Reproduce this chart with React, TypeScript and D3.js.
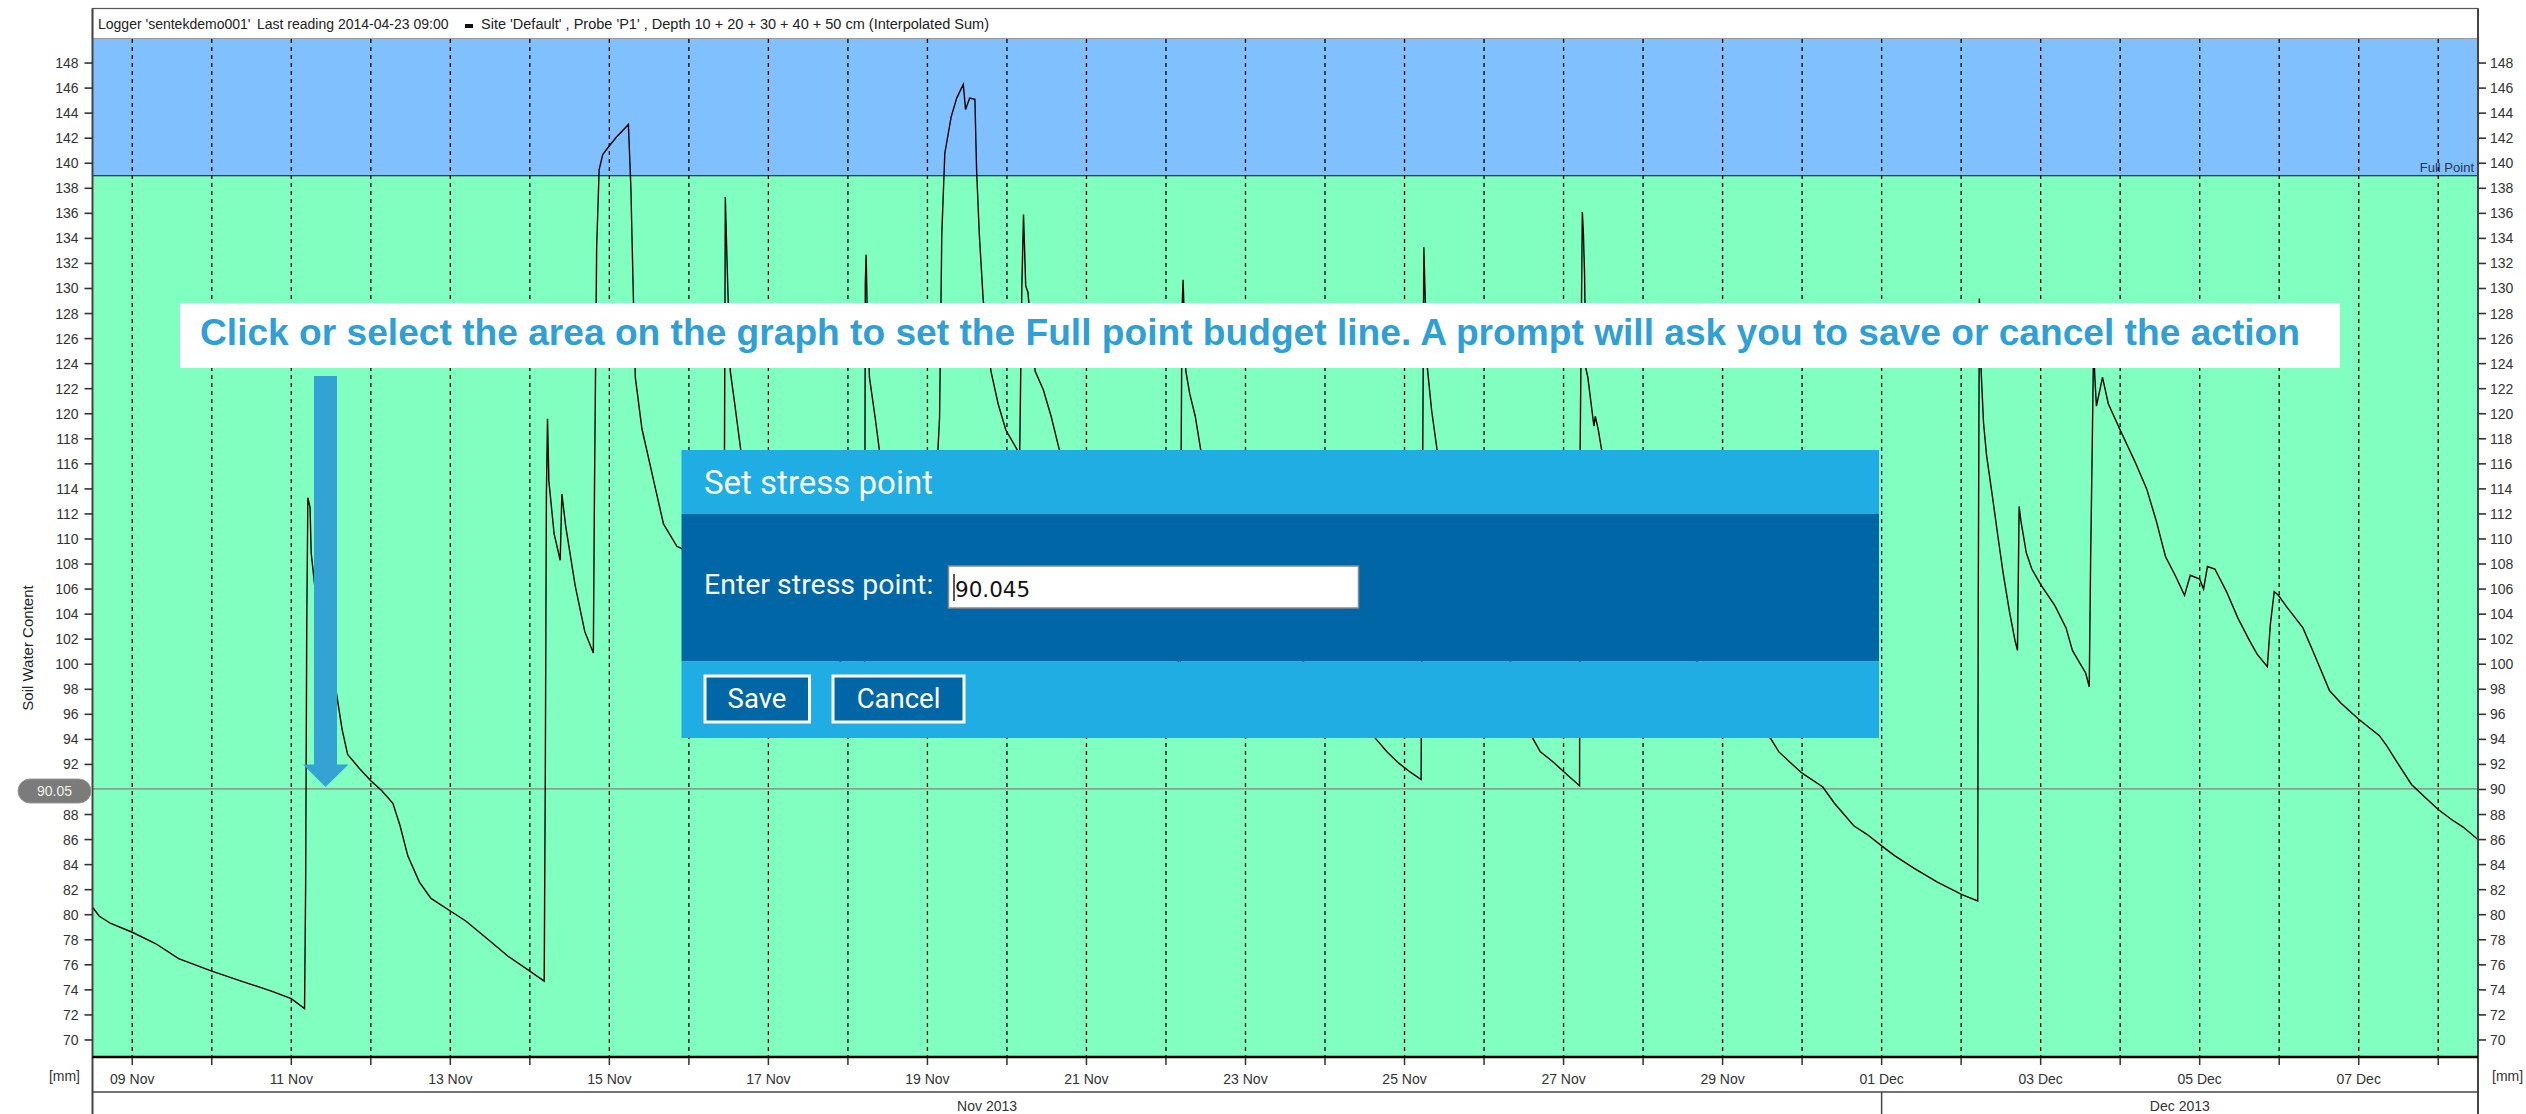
import React from "react";
import * as d3 from "d3";

// ---------- data ----------
const sampleTimes: string[] = [
  "11-08 12:00","11-08 14:00","11-08 17:30","11-09 00:00","11-09 07:00","11-09 14:00","11-10 00:00","11-10 10:00","11-10 18:00","11-11 00:00",
  "11-11 04:00","11-11 04:20","11-11 04:40","11-11 05:00","11-11 05:40","11-11 06:00","11-11 08:00","11-11 11:00","11-11 13:30","11-11 15:20",
  "11-11 17:00","11-11 20:30","11-12 00:00","11-12 03:20","11-12 06:40","11-12 08:50","11-12 11:10","11-12 14:40","11-12 18:10","11-13 00:00",
  "11-13 04:40","11-13 11:30","11-13 17:20","11-14 00:00","11-14 04:20","11-14 04:40","11-14 05:00","11-14 05:20","11-14 05:45","11-14 07:20",
  "11-14 09:10","11-14 09:40","11-14 10:50","11-14 13:40","11-14 16:35","11-14 19:10","11-14 19:30","11-14 20:10","11-14 20:55","11-14 22:00",
  "11-15 00:00","11-15 02:10","11-15 05:45","11-15 06:30","11-15 07:10","11-15 07:50","11-15 09:50","11-15 13:25","11-15 16:20","11-15 20:25",
  "11-16 00:45","11-16 06:00","11-16 10:30","11-16 10:45","11-16 11:00","11-16 11:30","11-16 12:30","11-16 13:50","11-16 15:40","11-16 20:00",
  "11-17 06:00","11-17 16:00","11-18 00:00","11-18 05:00","11-18 05:15","11-18 05:30","11-18 05:50","11-18 06:30","11-18 08:10","11-18 09:30",
  "11-18 14:00","11-18 20:00","11-19 02:30","11-19 03:10","11-19 03:40","11-19 04:20","11-19 05:15","11-19 07:10","11-19 08:50","11-19 10:50",
  "11-19 11:30","11-19 12:45","11-19 14:20","11-19 14:50","11-19 15:40","11-19 16:50","11-19 19:10","11-19 21:20","11-19 23:40","11-20 03:10",
  "11-20 03:50","11-20 04:30","11-20 05:00","11-20 05:40","11-20 06:20","11-20 08:30","11-20 11:00","11-20 13:20","11-20 15:50","11-21 00:00",
  "11-21 12:00","11-22 00:00","11-22 04:20","11-22 04:35","11-22 04:50","11-22 05:10","11-22 06:00","11-22 07:10","11-22 08:50","11-22 10:30",
  "11-22 18:00","11-23 06:00","11-23 18:00","11-24 06:00","11-24 15:10","11-24 18:45","11-24 22:15","11-25 01:40","11-25 05:00","11-25 05:30",
  "11-25 05:50","11-25 06:10","11-25 06:55","11-25 08:10","11-25 09:50","11-25 18:00","11-26 06:00","11-26 14:40","11-26 17:00","11-26 20:25",
  "11-27 01:00","11-27 04:50","11-27 05:00","11-27 05:40","11-27 06:00","11-27 06:20","11-27 06:45","11-27 07:20","11-27 09:10","11-27 09:35",
  "11-27 10:30","11-27 11:30","11-27 20:00","11-28 08:00","11-28 20:00","11-29 06:00","11-29 14:25","11-29 17:00","11-29 21:05","11-30 00:00",
  "11-30 06:15","11-30 09:45","11-30 15:35","11-30 19:40","12-01 00:30","12-01 04:00","12-01 09:50","12-01 16:50","12-02 00:15","12-02 05:00",
  "12-02 05:10","12-02 05:30","12-02 06:00","12-02 06:45","12-02 07:40","12-02 09:20","12-02 11:00","12-02 12:40","12-02 14:35","12-02 16:15",
  "12-02 17:00","12-02 17:30","12-02 18:00","12-02 19:40","12-02 21:20","12-03 00:10","12-03 04:15","12-03 07:40","12-03 09:35","12-03 11:20",
  "12-03 13:35","12-03 14:40","12-03 15:05","12-03 15:35","12-03 16:00","12-03 16:20","12-03 16:50","12-03 18:40","12-03 20:25","12-04 00:00",
  "12-04 04:35","12-04 08:00","12-04 10:50","12-04 13:40","12-04 16:35","12-04 19:25","12-04 21:10","12-05 00:00","12-05 01:10","12-05 02:20",
  "12-05 04:35","12-05 08:05","12-05 11:30","12-05 15:00","12-05 17:20","12-05 20:25","12-05 21:20","12-05 22:30","12-05 23:45","12-06 02:30",
  "12-06 07:10","12-06 10:35","12-06 15:10","12-06 18:35","12-07 00:00","12-07 06:15","12-07 08:25","12-07 12:00","12-07 15:55","12-07 19:55",
  "12-08 00:00","12-08 04:00","12-08 07:30","12-08 12:00",
];

const soilWater: number[] = [
  80.6,79.9,79.3,78.6,77.7,76.5,75.5,74.6,73.9,73.3,
  72.5,82.4,103.2,113.3,112.5,108.9,104.0,100.0,97.9,94.8,
  92.8,91.7,90.7,89.9,88.9,87.1,84.7,82.6,81.3,80.3,
  79.5,78.0,76.7,75.5,74.7,91.2,113.6,119.6,114.6,110.4,
  108.3,113.6,111.0,106.3,102.6,100.9,113.6,133.3,139.5,140.7,
  141.4,142.1,143.1,138.0,130.2,122.9,118.8,114.6,111.2,109.4,
  108.9,107.5,106.5,117.0,137.3,132.3,123.4,120.8,117.1,112.0,
  106.5,102.0,99.5,97.5,130.4,132.7,128.1,122.9,119.8,117.1,
  113.5,111.0,109.0,117.1,119.7,134.3,140.8,143.7,145.2,146.3,
  144.3,145.2,145.1,139.5,134.3,129.1,123.4,120.8,118.7,117.1,
  116.5,130.2,135.9,130.2,129.7,123.4,121.9,119.8,117.1,112.0,
  106.0,101.5,100.0,117.0,128.1,130.7,123.4,121.6,119.8,117.1,
  111.0,105.0,100.0,96.5,94.1,93.0,92.1,91.4,90.8,117.0,
  133.3,129.9,123.6,120.3,117.1,110.0,102.0,94.1,93.0,92.3,
  91.2,90.3,117.0,136.1,134.3,131.2,123.6,122.9,119.0,119.8,
  118.7,117.1,111.0,104.0,98.5,95.5,94.1,93.0,92.0,91.3,
  90.2,88.9,87.1,86.4,85.4,84.7,83.7,82.6,81.6,81.1,
  105.2,129.2,123.6,119.3,116.7,113.6,110.4,107.3,104.2,101.9,
  101.1,112.6,111.5,108.9,107.6,106.3,104.7,102.9,101.1,100.3,
  99.3,98.2,108.4,117.7,126.0,123.0,120.6,122.9,120.8,118.7,
  116.1,114.0,111.5,108.6,107.1,105.5,107.1,106.8,106.0,107.8,
  107.6,105.8,103.7,101.9,100.8,99.8,103.2,105.8,105.5,104.5,
  102.9,100.8,97.9,96.9,95.6,94.3,93.5,92.0,90.4,89.4,
  88.4,87.6,87.0,86.0,
];

const yTickValues: number[] = [70,72,74,76,78,80,82,84,86,88,90,92,94,96,98,100,102,104,106,108,110,112,114,116,118,120,122,124,126,128,130,132,134,136,138,140,142,144,146,148];
const monthLabels: string[] = ["Nov 2013", "Dec 2013"];
const fullPoint = 139.0;
const stressPoint = 90.045;
const stressLabel = "90.05";
const headerParts: string[] = [
  "Logger 'sentekdemo001'",
  "Last reading 2014-04-23 09:00",
  "Site 'Default' , Probe 'P1' , Depth 10 + 20 + 30 + 40 + 50 cm (Interpolated Sum)",
];
const bannerText =
  "Click or select the area on the graph to set the Full point budget line. A prompt will ask you to save or cancel the action";

// ---------- helpers ----------
function parseT(s: string): Date {
  const [md, hm] = s.split(" ");
  const [m, d] = md.split("-").map(Number);
  const [h, mi] = hm.split(":").map(Number);
  return new Date(2013, m - 1, d, h, mi);
}

const W = 2526;
const H = 1114;
const L = 92.5;
const R = 2478;
const T = 39;
const B = 1057;
const FONT = "'Liberation Sans', Arial, sans-serif";
const ROBOTO = "Roboto, 'Liberation Sans', Arial, sans-serif";

export default function App() {
  const x = d3
    .scaleTime()
    .domain([new Date(2013, 10, 8, 12), new Date(2013, 11, 8, 12)])
    .range([L, R]);
  const y = d3.scaleLinear().domain([68.64, 149.92]).range([B, T]);

  const data = sampleTimes.map((s, i) => ({ t: parseT(s), v: soilWater[i] }));
  const lineGen = d3
    .line<{ t: Date; v: number }>()
    .x((d) => x(d.t))
    .y((d) => y(d.v));

  const days = d3.timeDay.range(new Date(2013, 10, 9), new Date(2013, 11, 9));
  const fmt = d3.timeFormat("%d %b");
  const dec1 = x(new Date(2013, 11, 1));
  const yFull = y(fullPoint);
  const yStress = y(stressPoint);
  // the left label nearest the stress value is hidden under the stress-point pill
  const hiddenLeftTick = Math.round(stressPoint / 2) * 2;

  return (
    <svg
      width={W}
      height={H}
      style={{ position: "absolute", left: 0, top: 0, display: "block" }}
      xmlns="http://www.w3.org/2000/svg"
    >
      <defs>
        <clipPath id="plotClip">
          <rect x={L} y={T} width={R - L} height={B - T} />
        </clipPath>
      </defs>
      <rect x={0} y={0} width={W} height={H} fill="#ffffff" />

      {/* header */}
      <rect x={L} y={8.5} width={R - L} height={T - 8.5} fill="#fff" stroke="#555" strokeWidth={1.2} />
      <g fontFamily={FONT} fontSize={14} fill="#222">
        <text x={98} y={29}>{headerParts[0]}</text>
        <text x={257} y={29}>{headerParts[1]}</text>
        <rect x={465} y={24} width={8} height={4} fill="#111" />
        <text x={481} y={29} textLength={508} lengthAdjust="spacingAndGlyphs">{headerParts[2]}</text>
      </g>

      {/* plot background zones */}
      <rect x={L} y={T} width={R - L} height={yFull - T} fill="#80c0ff" />
      <rect x={L} y={yFull} width={R - L} height={B - yFull} fill="#80ffc0" />
      <text x={2474} y={172} textAnchor="end" fontFamily={FONT} fontSize={13} fill="#2a3348">Full Point</text>

      {/* day gridlines */}
      <g stroke="#000" strokeWidth={1.3} strokeDasharray="4,4">
        {days.map((d, i) => (
          <line key={i} x1={x(d)} x2={x(d)} y1={T} y2={B} />
        ))}
      </g>

      {/* full point & stress lines */}
      <line x1={L} x2={R} y1={yFull} y2={yFull} stroke="#111" strokeWidth={1.2} />
      <line x1={L} x2={R} y1={yStress} y2={yStress} stroke="#808080" strokeWidth={1.3} />

      {/* data line */}
      <path d={lineGen(data) || ""} fill="none" stroke="#000" strokeWidth={1.4} clipPath="url(#plotClip)" />

      {/* frame lines */}
      <line x1={L} x2={L} y1={8.5} y2={H} stroke="#444" strokeWidth={2} />
      <line x1={R} x2={R} y1={8.5} y2={H} stroke="#444" strokeWidth={2} />
      <line x1={L} x2={R} y1={B} y2={B} stroke="#000" strokeWidth={2.6} />
      <line x1={L} x2={R} y1={1092} y2={1092} stroke="#444" strokeWidth={1.5} />
      <line x1={dec1} x2={dec1} y1={1092} y2={H} stroke="#444" strokeWidth={1.5} />

      {/* y axes */}
      <g fontFamily={FONT} fontSize={14} fill="#333">
        {yTickValues.map((v) => (
          <g key={v}>
            {v !== hiddenLeftTick && (
              <>
                <line x1={L - 8} x2={L} y1={y(v)} y2={y(v)} stroke="#333" strokeWidth={1.6} />
                <text x={78.5} y={y(v) + 5} textAnchor="end">{v}</text>
              </>
            )}
            <line x1={R} x2={R + 8} y1={y(v)} y2={y(v)} stroke="#333" strokeWidth={1.6} />
            <text x={2490} y={y(v) + 5} textAnchor="start">{v}</text>
          </g>
        ))}
        <text x={80} y={1081} textAnchor="end">[mm]</text>
        <text x={2492} y={1081} textAnchor="start">[mm]</text>
      </g>
      <text
        transform="translate(33,648) rotate(-90)"
        textAnchor="middle"
        fontFamily={FONT}
        fontSize={15}
        fill="#222"
      >
        Soil Water Content
      </text>

      {/* x axis */}
      <g fontFamily={FONT} fontSize={14} fill="#333">
        {days.map((d, i) => (
          <g key={i}>
            <line x1={x(d)} x2={x(d)} y1={1058} y2={1065} stroke="#333" strokeWidth={1.5} />
            {d.getDate() % 2 === 1 && (
              <text x={x(d)} y={1084} textAnchor="middle">{fmt(d)}</text>
            )}
          </g>
        ))}
        <text x={(L + dec1) / 2} y={1111} textAnchor="middle">{monthLabels[0]}</text>
        <text x={(dec1 + R) / 2} y={1111} textAnchor="middle">{monthLabels[1]}</text>
      </g>

      {/* stress point pill */}
      <rect x={18} y={779} width={73} height={24} rx={12} ry={12} fill="#7b7b7b" stroke="#9a9a9a" strokeWidth={1} />
      <text x={54.5} y={796} textAnchor="middle" fontFamily={FONT} fontSize={14} fill="#f0f0f0">{stressLabel}</text>

      {/* instruction banner */}
      <rect x={180} y={303} width={2160} height={65} fill="#ffffff" />
      <text
        x={200}
        y={345}
        fontFamily={FONT}
        fontWeight="bold"
        fontSize={37}
        fill="#2f9fd5"
        textLength={2100}
        lengthAdjust="spacingAndGlyphs"
      >
        {bannerText}
      </text>

      {/* arrow */}
      <rect x={314} y={376} width={23} height={389} fill="#33a3d3" />
      <polygon points="303,764.5 348.5,764.5 325.5,787" fill="#33a3d3" />

      {/* dialog */}
      <rect x={681.5} y={450} width={1197.5} height={64} fill="#20ade3" />
      <rect x={681.5} y={514} width={1197.5} height={147.5} fill="#0066a6" />
      <rect x={681.5} y={661.5} width={1197.5} height={76.5} fill="#20ade3" />
      <text x={704} y={494} fontFamily={ROBOTO} fontSize={33} fill="#f4f8fb">Set stress point</text>
      <text x={704} y={594} fontFamily={ROBOTO} fontSize={28.5} fill="#f4f8fb">Enter stress point:</text>
      <rect x={948.5} y={566} width={410} height={42} fill="#ffffff" stroke="#8a8a8a" strokeWidth={1.5} />
      <line x1={954} x2={954} y1={574} y2={601} stroke="#000" strokeWidth={1.3} />
      <text x={955} y={597} fontFamily="'DejaVu Sans', Verdana, sans-serif" fontSize={21.5} fill="#111">90.045</text>
      <rect x={705} y={676} width={104.5} height={46} fill="#0066a6" stroke="#ffffff" strokeWidth={3} />
      <text x={757} y={708} textAnchor="middle" fontFamily={ROBOTO} fontSize={27.5} fill="#ffffff">Save</text>
      <rect x={833} y={676} width={131} height={46} fill="#0066a6" stroke="#ffffff" strokeWidth={3} />
      <text x={898.5} y={708} textAnchor="middle" fontFamily={ROBOTO} fontSize={27.5} fill="#ffffff">Cancel</text>
    </svg>
  );
}
